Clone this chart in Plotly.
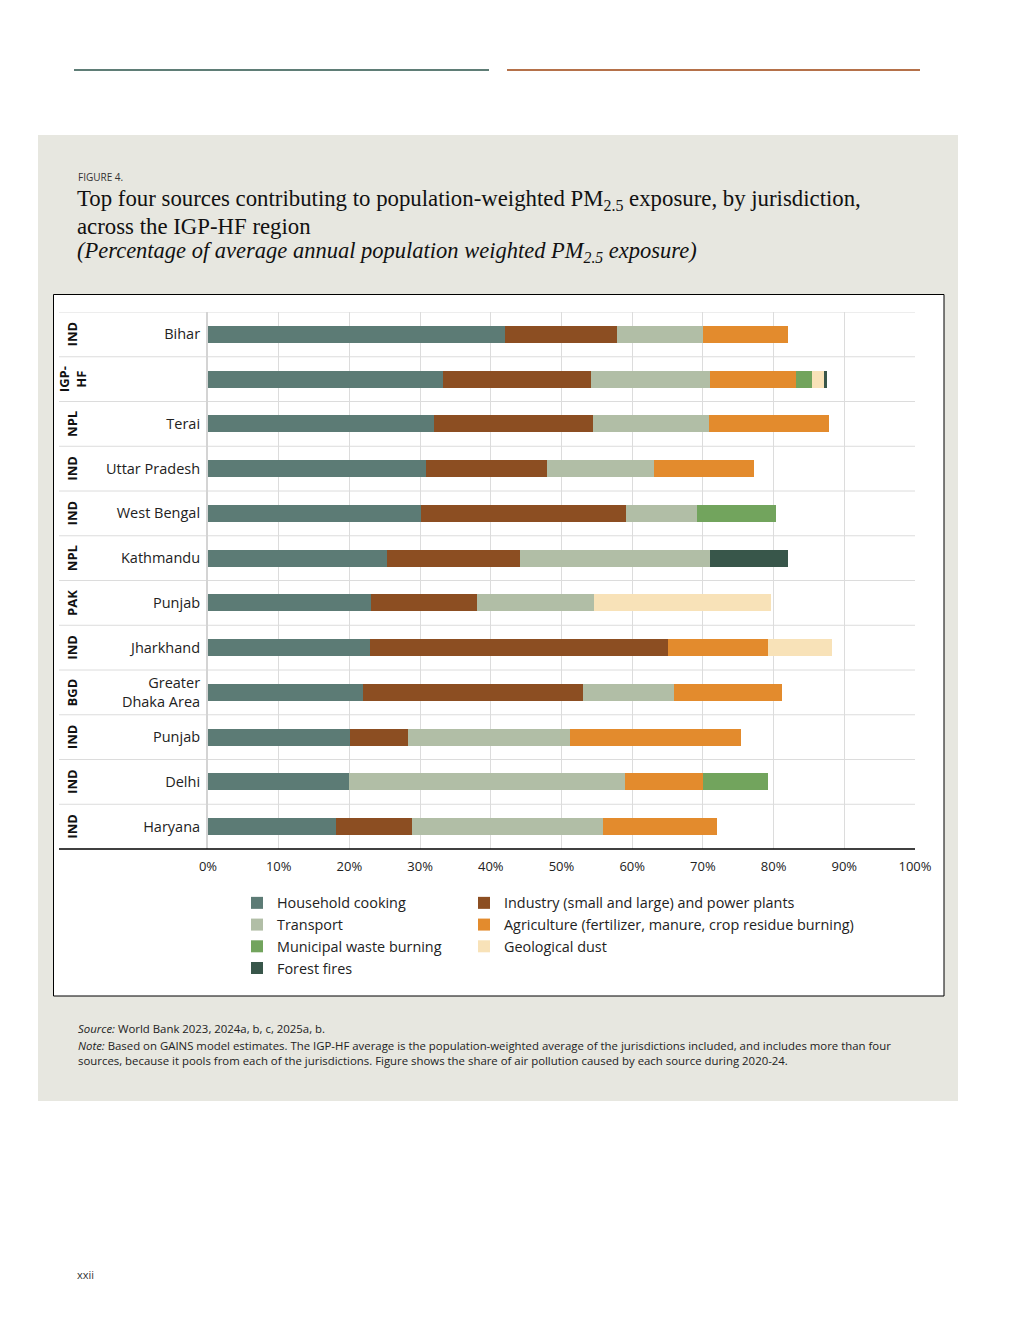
import plotly.graph_objects as go

# ---------------- data ----------------
countries = ["IND", "IGP-<br>HF", "NPL", "IND", "IND", "NPL", "PAK", "IND", "BGD", "IND", "IND", "IND"]
jurisdictions = ["Bihar", "", "Terai", "Uttar Pradesh", "West Bengal", "Kathmandu", "Punjab",
                 "Jharkhand", "Greater<br>Dhaka Area", "Punjab", "Delhi", "Haryana"]

sources = ["Household cooking", "Industry (small and large) and power plants", "Transport",
           "Agriculture (fertilizer, manure, crop residue burning)", "Municipal waste burning",
           "Geological dust", "Forest fires"]

household = [42.0, 33.3, 31.9, 30.9, 30.1, 25.3, 23.1, 22.9, 21.9, 20.1, 19.9, 18.1]
industry = [15.9, 20.9, 22.6, 17.1, 29.0, 18.8, 14.9, 42.2, 31.1, 8.2, None, 10.8]
transport = [12.1, 16.8, 16.4, 15.1, 10.1, 26.9, 16.6, None, 12.9, 22.9, 39.1, 27.0]
agriculture = [12.0, 12.2, 16.9, 14.1, None, None, None, 14.1, 15.3, 24.2, 11.0, 16.1]
municipal = [None, 2.2, None, None, 11.1, None, None, None, None, None, 9.2, None]
geological = [None, 1.7, None, None, None, None, 25.0, 9.1, None, None, None, None]
forest = [None, 0.5, None, None, None, 11.0, None, None, None, None, None, None]

x_ticks = [0, 10, 20, 30, 40, 50, 60, 70, 80, 90, 100]
x_tick_labels = ["0%", "10%", "20%", "30%", "40%", "50%", "60%", "70%", "80%", "90%", "100%"]

# ---------------- styles ----------------
colors = ["#5c7b75", "#8c4e22", "#b1bea6", "#e38b2d", "#72a45d", "#f8e2b8", "#38564a"]
legend_of = ["legend", "legend2", "legend", "legend2", "legend", "legend2", "legend"]
series = [household, industry, transport, agriculture, municipal, geological, forest]

# page body has an 8px margin in the browser, so the figure is drawn 8px smaller/earlier
OFF = 8
W, H = 1020 - OFF, 1320 - OFF
# target positions of the plot area on the page
L, R, T, B = 208, 915, 312, 849


def px2x(px):
    return (px - L) / (R - L)


def py2y(py):
    return (B - py) / (B - T)


row_ids = [f"{c}|{j}|{i}" for i, (c, j) in enumerate(zip(countries, jurisdictions))]
label_vals = [r for r, j in zip(row_ids, jurisdictions) if j]
label_text = [j for j in jurisdictions if j]

SANS = "Open Sans"
SERIF = "Liberation Serif"

fig = go.Figure()
for name, vals, col, lg in zip(sources, series, colors, legend_of):
    fig.add_trace(go.Bar(
        y=row_ids, x=vals, name=name, orientation="h",
        marker=dict(color=col, line=dict(width=0)),
        width=0.38, legend=lg,
        hovertemplate="%{x:.1f}%<extra>" + name + "</extra>",
    ))

shapes = []
# decorative top lines
shapes.append(dict(type="line", xref="paper", yref="paper", x0=px2x(74), x1=px2x(489),
                   y0=py2y(70), y1=py2y(70), line=dict(color="#5f7d76", width=2), layer="below"))
shapes.append(dict(type="line", xref="paper", yref="paper", x0=px2x(507), x1=px2x(920),
                   y0=py2y(70), y1=py2y(70), line=dict(color="#b5714a", width=2), layer="below"))
# grey panel
shapes.append(dict(type="rect", xref="paper", yref="paper", x0=px2x(38), x1=px2x(958),
                   y0=py2y(135), y1=py2y(1101), fillcolor="#e7e7e0", line=dict(width=0), layer="below"))
# white chart box
shapes.append(dict(type="rect", xref="paper", yref="paper", x0=px2x(53.5), x1=px2x(944),
                   y0=py2y(294.5), y1=py2y(996), fillcolor="white",
                   line=dict(color="black", width=1), layer="below"))
# row separators
for i in range(len(row_ids)):
    shapes.append(dict(type="line", xref="paper", yref="y", x0=px2x(59), x1=1,
                       y0=i - 0.5, y1=i - 0.5, line=dict(color="#dcdcdc", width=1), layer="below"))
# x axis baseline
shapes.append(dict(type="line", xref="paper", yref="paper", x0=px2x(59), x1=1,
                   y0=0, y1=0, line=dict(color="black", width=1.3), layer="above"))

annotations = []
# country codes
for rid, c in zip(row_ids, countries):
    annotations.append(dict(text=c, xref="paper", yref="y", x=px2x(72), y=rid,
                            textangle=-90, showarrow=False, xanchor="center", yanchor="middle",
                            font=dict(family=SANS, size=13, color="#111111", weight="bold")))
# title block
annotations.append(dict(text="FIGURE 4.", xref="paper", yref="paper", x=px2x(76), y=py2y(177),
                        xanchor="left", yanchor="middle", showarrow=False,
                        font=dict(family=SANS, size=10, color="#333333")))
annotations.append(dict(text="Top four sources contributing to population-weighted PM<sub>2.5</sub> exposure, by jurisdiction,",
                        xref="paper", yref="paper", x=px2x(75), y=py2y(200), xanchor="left",
                        yanchor="middle", showarrow=False,
                        font=dict(family=SERIF, size=22.8, color="#111111")))
annotations.append(dict(text="across the IGP-HF region",
                        xref="paper", yref="paper", x=px2x(75), y=py2y(226), xanchor="left",
                        yanchor="middle", showarrow=False,
                        font=dict(family=SERIF, size=22.8, color="#111111")))
annotations.append(dict(text="<i>(Percentage of average annual population weighted PM<sub>2.5</sub> exposure)</i>",
                        xref="paper", yref="paper", x=px2x(75), y=py2y(252), xanchor="left",
                        yanchor="middle", showarrow=False,
                        font=dict(family=SERIF, size=22.5, color="#111111")))
# footnotes
annotations.append(dict(text="<i>Source:</i> World Bank 2023, 2024a, b, c, 2025a, b.",
                        xref="paper", yref="paper", x=px2x(76), y=py2y(1028), xanchor="left",
                        yanchor="middle", showarrow=False, align="left",
                        font=dict(family=SANS, size=11.4, color="#222222")))
annotations.append(dict(text="<i>Note:</i> Based on GAINS model estimates. The IGP-HF average is the population-weighted average of the jurisdictions included, and includes more than four<br>"
                             "sources, because it pools from each of the jurisdictions. Figure shows the share of air pollution caused by each source during 2020-24.",
                        xref="paper", yref="paper", x=px2x(76), y=py2y(1053), xanchor="left",
                        yanchor="middle", showarrow=False, align="left",
                        font=dict(family=SANS, size=11.4, color="#222222")))
annotations.append(dict(text="xxii", xref="paper", yref="paper", x=px2x(75), y=py2y(1274),
                        xanchor="left", yanchor="middle", showarrow=False,
                        font=dict(family=SANS, size=11, color="#333333")))

legend_font = dict(family=SANS, size=14.4, color="#222222")

fig.update_layout(
    width=W, height=H, autosize=False,
    margin=dict(l=L - OFF, r=W - (R - OFF), t=T - OFF, b=H - (B - OFF), pad=0),
    paper_bgcolor="white", plot_bgcolor="white",
    barmode="stack", bargap=0,
    showlegend=True,
    font=dict(family=SANS, size=14, color="#222222"),
    shapes=shapes, annotations=annotations,
    legend=dict(x=px2x(237), y=py2y(887), xanchor="left", yanchor="top", orientation="v",
                font=legend_font, bgcolor="rgba(0,0,0,0)", traceorder="normal",
                itemclick=False, itemdoubleclick=False),
    legend2=dict(x=px2x(464), y=py2y(887), xanchor="left", yanchor="top", orientation="v",
                 font=legend_font, bgcolor="rgba(0,0,0,0)", traceorder="normal",
                 itemclick=False, itemdoubleclick=False),
    xaxis=dict(range=[0, 100], tickmode="array", tickvals=x_ticks, ticktext=x_tick_labels,
               showgrid=True, gridcolor="#dcdcdc", gridwidth=1, zeroline=False, showline=False,
               ticks="", ticklabelstandoff=8, fixedrange=True,
               tickfont=dict(family=SANS, size=13, color="#222222")),
    yaxis=dict(categoryorder="array", categoryarray=row_ids, range=[len(row_ids) - 0.5, -0.5],
               tickmode="array", tickvals=label_vals, ticktext=label_text, showgrid=False,
               zeroline=False, showline=True, linecolor="#d4d4d4", linewidth=2,
               layer="below traces", ticks="", ticklabelstandoff=3, fixedrange=True,
               tickfont=dict(family=SANS, size=14.5, color="#222222")),
)

fig.write_html("out.html")
